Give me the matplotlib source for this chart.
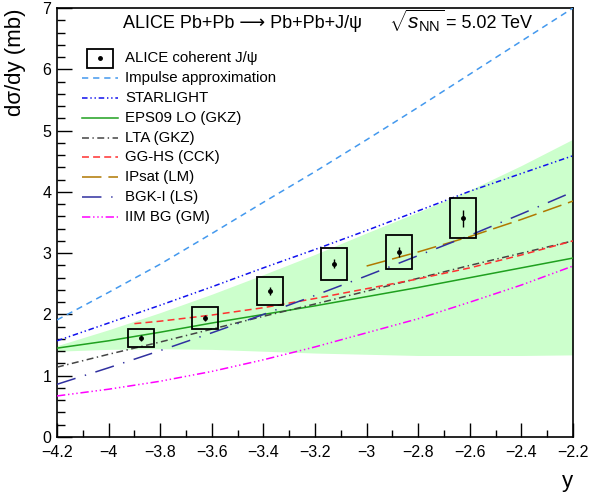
import matplotlib
matplotlib.use("Agg")
import matplotlib.pyplot as plt
from matplotlib.patches import Rectangle
from matplotlib.ticker import MultipleLocator

plt.rcParams['font.family'] = ['Liberation Sans', 'DejaVu Sans']
plt.rcParams['mathtext.fontset'] = 'custom'
plt.rcParams['mathtext.rm'] = 'Liberation Sans'
plt.rcParams['mathtext.it'] = 'Liberation Sans:italic'
plt.rcParams['lines.scale_dashes'] = False

# ALICE coherent J/psi points
y_data = [-3.875, -3.625, -3.375, -3.125, -2.875, -2.625]
dsdy = [1.615, 1.94, 2.38, 2.83, 3.02, 3.57]
stat_err = [0.05, 0.05, 0.06, 0.07, 0.08, 0.14]
syst_err = [0.14, 0.18, 0.23, 0.26, 0.28, 0.33]

# model curves
y_model = [-4.2, -4.0, -3.8, -3.6, -3.4, -3.2, -3.0, -2.8, -2.6, -2.4, -2.2]
impulse = [1.91, 2.36, 2.82, 3.32, 3.83, 4.33, 4.85, 5.38, 5.92, 6.46, 7.0]
starlight = [1.57, 1.86, 2.15, 2.45, 2.76, 3.06, 3.37, 3.69, 4.01, 4.30, 4.59]
eps09 = [1.45, 1.57, 1.71, 1.86, 2.0, 2.14, 2.29, 2.44, 2.60, 2.76, 2.92]
eps09_hi = [1.49, 1.75, 2.03, 2.33, 2.65, 2.98, 3.33, 3.67, 4.03, 4.43, 4.86]
eps09_lo = [1.40, 1.43, 1.44, 1.43, 1.40, 1.37, 1.35, 1.33, 1.33, 1.33, 1.34]
lta = [1.14, 1.35, 1.55, 1.76, 1.97, 2.17, 2.38, 2.59, 2.80, 3.00, 3.20]
bgk = [0.86, 1.13, 1.41, 1.70, 2.00, 2.31, 2.63, 2.96, 3.29, 3.64, 4.00]
iim = [0.67, 0.78, 0.91, 1.07, 1.26, 1.47, 1.70, 1.93, 2.20, 2.48, 2.79]

y_gghs = [-3.9, -3.8, -3.6, -3.4, -3.2, -3.0, -2.8, -2.6, -2.4, -2.2]
gghs = [1.85, 1.89, 1.99, 2.11, 2.26, 2.42, 2.58, 2.76, 2.97, 3.20]

y_ipsat = [-3.0, -2.8, -2.6, -2.4, -2.2]
ipsat = [2.79, 3.02, 3.27, 3.55, 3.85]

fig = plt.figure(figsize=(5.92, 4.97), dpi=100)
ax = fig.add_axes([0.0963, 0.1207, 0.8716, 0.8632])

ax.fill_between(y_model, eps09_lo, eps09_hi, color='#ccffcc', lw=0, zorder=1)

styles = [
    ('Impulse approximation', y_model, impulse, '#4499ee', (0, (4.5, 3.5))),
    ('STARLIGHT', y_model, starlight, '#1010ee', (0, (4, 2, 1, 2, 1, 2))),
    ('EPS09 LO (GKZ)', y_model, eps09, '#1fa01f', '-'),
    ('LTA (GKZ)', y_model, lta, '#444444', (0, (5, 2.5, 1, 2.5))),
    ('GG-HS (CCK)', y_gghs, gghs, '#ff3030', (0, (5, 3))),
    ('IPsat (LM)', y_ipsat, ipsat, '#b07800', (0, (14, 5))),
    ('BGK-I (LS)', y_model, bgk, '#3030a0', (0, (14, 7, 1, 7))),
    ('IIM BG (GM)', y_model, iim, '#ff00ff', (0, (6, 2, 1, 2, 1, 2, 1, 2))),
]
for name, xs, vals, col, ls in styles:
    ax.plot(xs, vals, color=col, lw=1.1, ls=ls, zorder=3)

# data: syst boxes + stat bars
for x, v, s in zip(y_data, dsdy, syst_err):
    ax.add_patch(Rectangle((x - 0.05, v - s), 0.1, 2 * s, fill=False,
                           ec='black', lw=1.3, zorder=4))
ax.errorbar(y_data, dsdy, yerr=stat_err, fmt='o', color='black', ms=2.5,
            lw=1.0, capsize=0, zorder=5)

ax.set_xlim(-4.2, -2.2)
ax.set_ylim(0, 7)
ax.xaxis.set_major_locator(MultipleLocator(0.2))
ax.xaxis.set_minor_locator(MultipleLocator(0.1))
ax.yaxis.set_major_locator(MultipleLocator(1))
ax.yaxis.set_minor_locator(MultipleLocator(0.2))
ax.xaxis.set_major_formatter(plt.FuncFormatter(lambda v, p: ('%g' % round(v, 1)).replace('-', '\u2212')))
ax.tick_params(which='both', direction='in', top=False, right=False, labelsize=11.5)
ax.tick_params(axis='x', which='major', length=10, width=1, pad=5.5)
ax.tick_params(axis='x', which='minor', length=5, width=1)
ax.tick_params(axis='y', which='major', length=11, width=1, pad=4)
ax.tick_params(axis='y', which='minor', length=5.5, width=1)
for sp in ax.spines.values():
    sp.set_linewidth(1.2)

ax.set_xlabel('y', loc='right', fontsize=16, labelpad=8)
ax.set_ylabel('d\u03c3/dy (mb)', loc='top', fontsize=16, labelpad=12)

ax.text(0.128, 0.953, 'ALICE Pb+Pb \u27f6 Pb+Pb+J/\u03c8', transform=ax.transAxes,
        fontsize=13, va='baseline', ha='left')
ax.text(0.643, 0.953, r'$\sqrt{s_{\mathrm{NN}}}$', transform=ax.transAxes,
        fontsize=15, va='baseline', ha='left')
ax.text(0.754, 0.953, '= 5.02 TeV', transform=ax.transAxes,
        fontsize=13, va='baseline', ha='left')

# legend drawn by hand, ROOT style
row0 = (437 - 58.3) / 429
step = 19.8 / 429
lx0, lx1, tx = 0.048, 0.119, 0.132
ax.add_patch(Rectangle((0.0576, row0 - 0.0215), 0.0515, 0.043, fill=False,
                       ec='black', lw=1.3, transform=ax.transAxes, zorder=6))
ax.plot([(lx0 + lx1) / 2], [row0], 'o', color='black', ms=2.5, transform=ax.transAxes, zorder=6)
ax.text(tx, row0, 'ALICE coherent J/\u03c8', transform=ax.transAxes, fontsize=10.8,
        va='center', ha='left')
for i, (name, xs, vals, col, ls) in enumerate(styles):
    yy = row0 - (i + 1) * step
    ax.plot([lx0, lx1], [yy, yy], color=col, lw=1.1, ls=ls, transform=ax.transAxes, zorder=6)
    ax.text(tx, yy, name, transform=ax.transAxes, fontsize=10.8, va='center', ha='left')

fig.savefig('out.png', dpi=100)
